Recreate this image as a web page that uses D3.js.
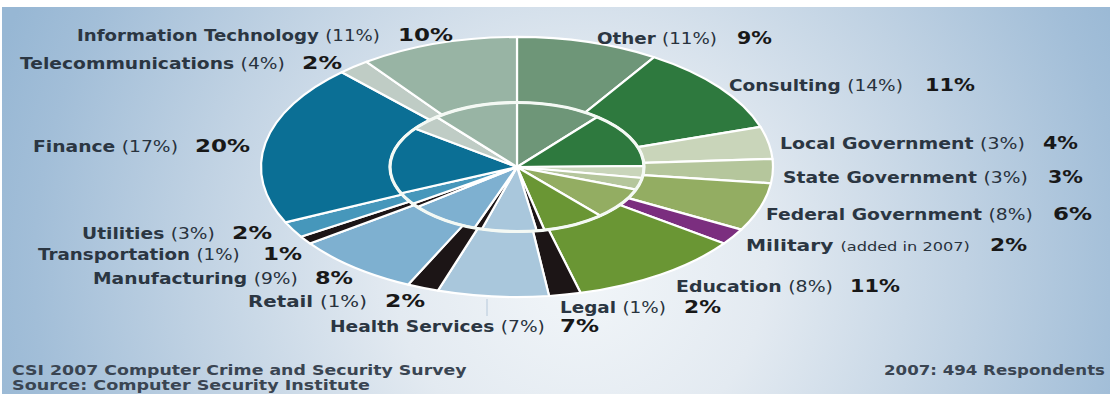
<!DOCTYPE html>
<html>
<head>
<meta charset="utf-8">
<script src="https://cdn.jsdelivr.net/npm/d3@7"></script>
<style>
  html, body { margin: 0; padding: 0; background: #fff; }
  svg { display: block; }
</style>
</head>
<body>
<svg id="chart" width="1110" height="394"></svg>
<script>
// Respondent sectors, clockwise from 12 o'clock
const sectors = [
  "Other", "Consulting", "Local Government", "State Government",
  "Federal Government", "Military", "Education", "Legal",
  "Health Services", "Retail", "Manufacturing", "Transportation",
  "Utilities", "Finance", "Telecommunications", "Information Technology"
];
// 2007 shares (outer ring) and 2006 shares (inner pie), percent
const share2007 = [9, 11, 4, 3, 6, 2, 11, 2, 7, 2, 8, 1, 2, 20, 2, 10];
const share2006 = [11, 14, 3, 3, 8, 0, 8, 1, 7, 1, 9, 1, 3, 17, 4, 11];
// Text shown in parentheses after each sector name
const notes2006 = ["(11%)", "(14%)", "(3%)", "(3%)", "(8%)", "(added in 2007)", "(8%)", "(1%)",
  "(7%)", "(1%)", "(9%)", "(1%)", "(3%)", "(17%)", "(4%)", "(11%)"];
const footerLeft = ["CSI 2007 Computer Crime and Security Survey", "Source: Computer Security Institute"];
const footerRight = "2007: 494 Respondents";

// Fill per sector
const sectorColors = [
  "#6e9678", "#2e793e", "#c9d5ba", "#b5c69c", "#93ad62", "#7b2e7f", "#6a9634", "#1c1516",
  "#a9c7dc", "#1c1516", "#7eb0d0", "#1c1516", "#4697bb", "#0b6f95", "#bfccc5", "#98b4a4"
];

// Label placement: [name start, name end, value start, value end, text centre y]
const labelLayout = {
  "Information Technology": [77, 380, 398, 453, 35],
  "Telecommunications": [20, 285, 302, 342, 63],
  "Finance": [33, 178, 195, 250, 146],
  "Utilities": [82, 215, 232, 272, 233],
  "Transportation": [38, 240, 263, 302, 254],
  "Manufacturing": [93, 298, 315, 353, 278],
  "Retail": [248, 367, 385, 425, 301],
  "Health Services": [330, 545, 560, 599, 326],
  "Legal": [560, 666, 684, 721, 307],
  "Education": [676, 833, 850, 900, 286],
  "Military": [746, 970, 990, 1027, 245],
  "Federal Government": [766, 1033, 1053, 1092, 214],
  "State Government": [783, 1028, 1048, 1083, 177],
  "Local Government": [780, 1025, 1043, 1078, 143],
  "Consulting": [729, 903, 925, 975, 85],
  "Other": [597, 717, 737, 772, 38]
};

const W = 1110, H = 394;
const cx = 517, cy = 167;
const rOuter = 256, rInner = 127, squash = 0.508;
const FONT = "'DejaVu Sans', Verdana, sans-serif";

const svg = d3.select("#chart");
const defs = svg.append("defs");

// Background wash
const bg = defs.append("radialGradient")
  .attr("id", "bgWash").attr("gradientUnits", "userSpaceOnUse")
  .attr("cx", 580).attr("cy", 270).attr("r", 620);
[[0, "#f2f6f9"], [0.3, "#e3eaf1"], [0.62, "#c0d2e3"], [0.88, "#a2bed8"], [1, "#97b7d4"]]
  .forEach(([o, c]) => bg.append("stop").attr("offset", o).attr("stop-color", c));

svg.append("rect").attr("width", W).attr("height", H).attr("fill", "#ffffff");
svg.append("rect").attr("x", 2).attr("y", 7).attr("width", W - 2).attr("height", H - 7)
  .attr("fill", "url(#bgWash)");

const color = d3.scaleOrdinal().domain(sectors).range(sectorColors);
const pie = d3.pie().sort(null).value(d => d.v);

const outerData = pie(sectors.map((s, i) => ({ s, v: share2007[i] })));
const innerData = pie(sectors.map((s, i) => ({ s, v: share2006[i] })));

const arcOuter = d3.arc().innerRadius(rInner).outerRadius(rOuter);
const arcInner = d3.arc().innerRadius(0).outerRadius(rInner);

// Pie drawn as a circle and flattened into an ellipse
const g = svg.append("g").attr("transform", `translate(${cx},${cy}) scale(1,${squash})`);

g.append("g").selectAll("path").data(outerData).join("path")
  .attr("d", arcOuter)
  .attr("fill", d => color(d.data.s))
  .attr("stroke", "#ffffff").attr("stroke-width", 2.2)
  .attr("stroke-linejoin", "round")
  .attr("vector-effect", "non-scaling-stroke");

g.append("g").selectAll("path").data(innerData.filter(d => d.data.v > 0)).join("path")
  .attr("d", arcInner)
  .attr("fill", d => color(d.data.s))
  .attr("stroke", "#ffffff").attr("stroke-width", 2.2)
  .attr("stroke-linejoin", "round")
  .attr("vector-effect", "non-scaling-stroke");

g.append("circle").attr("r", rInner)
  .attr("fill", "none").attr("stroke", "#f4f9f4").attr("stroke-width", 3.2)
  .attr("vector-effect", "non-scaling-stroke");

// Leader line under Health Services
svg.append("line").attr("x1", 487).attr("x2", 487).attr("y1", 299).attr("y2", 316)
  .attr("stroke", "#c7d6e3").attr("stroke-width", 1.5);

// Stretch a text horizontally so it spans [x0, x1]
function fitSpan(sel, x0, x1, baseline, anchorEnd) {
  const natural = sel.node().getComputedTextLength();
  const sx = (x1 - x0) / natural;
  sel.attr("transform", `translate(${anchorEnd ? x1 : x0},${baseline}) scale(${sx},1)`);
}

// Sector labels: name, 2006 share in parentheses, bold 2007 share
const labels = svg.append("g").attr("font-family", FONT);
sectors.forEach((s, i) => {
  const [n0, n1, v0, v1, yc] = labelLayout[s];
  const t = labels.append("text")
    .attr("font-size", 15).attr("fill", "#2b3642");
  t.append("tspan").attr("font-weight", 700).text(s + " ");
  t.append("tspan").attr("font-weight", 400)
    .attr("font-size", s === "Military" ? 12 : 15)
    .attr("fill", "#28323d")
    .text(notes2006[i]);
  fitSpan(t, n0, n1, yc + 5.5, false);

  const v = labels.append("text")
    .attr("text-anchor", "end")
    .attr("font-size", 17).attr("font-weight", 700).attr("fill", "#181818")
    .text(share2007[i] + "%");
  fitSpan(v, v0, v1, yc + 6, true);
});

// Footer
const foot = svg.append("g").attr("font-family", FONT)
  .attr("font-size", 14).attr("font-weight", 700).attr("fill", "#3a4552");
fitSpan(foot.append("text").text(footerLeft[0]), 12, 467, 375, false);
fitSpan(foot.append("text").text(footerLeft[1]), 12, 370, 390, false);
const fr = foot.append("text").attr("text-anchor", "end").text(footerRight);
fitSpan(fr, 884, 1105, 375, true);
</script>
</body>
</html>
